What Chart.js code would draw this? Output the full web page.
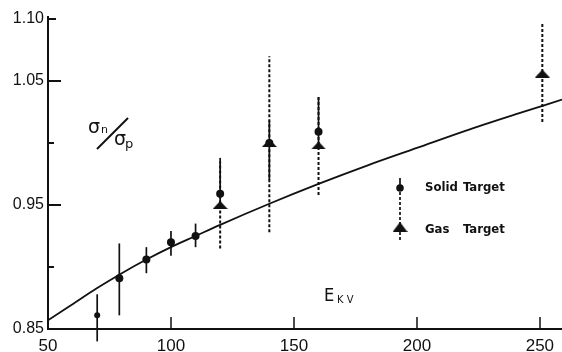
<!DOCTYPE html>
<html>
<head>
<meta charset="utf-8">
<script src="https://cdn.jsdelivr.net/npm/chart.js@4.4.1/dist/chart.umd.min.js"></script>
<style>
  html, body { margin: 0; padding: 0; background: #fff; }
  canvas { display: block; }
</style>
</head>
<body>
<canvas id="ratio" width="562" height="352"></canvas>
<script>
// theory curve, sigma_n / sigma_p against energy in kV
const curveE = [50, 60, 70, 80, 90, 100, 110, 120, 140, 160, 180, 200, 220, 240, 259];
const curveRatio = [0.857, 0.870, 0.883, 0.895, 0.906, 0.916, 0.925, 0.934, 0.951, 0.967, 0.982, 0.996, 1.010, 1.023, 1.035];

// solid target points and their error bars
const solidE = [70, 79, 90, 100, 110, 120, 140, 160];
const solidRatio = [0.861, 0.891, 0.906, 0.920, 0.925, 0.959, 1.000, 1.009];
const solidLow = [0.840, 0.861, 0.895, 0.909, 0.916, 0.950, 0.970, 0.998];
const solidHigh = [0.878, 0.919, 0.916, 0.929, 0.935, 0.988, 1.018, 1.037];

// gas target points and their error bars
const gasE = [120, 140, 160, 251];
const gasRatio = [0.950, 1.000, 0.998, 1.056];
const gasLow = [0.915, 0.928, 0.958, 1.017];
const gasHigh = [0.985, 1.070, 1.038, 1.097];

const xTicks = [50, 100, 150, 200, 250];
const yTicks = [0.85, 0.90, 0.95, 1.00, 1.05, 1.10];
const yLabels = ['0.85', '', '0.95', '', '1.05', '1.10'];

const ink = '#111';

// flat triangle used as the gas target marker
function makeTriangle(w, h) {
    const c = document.createElement('canvas');
    c.width = w;
    c.height = h;
    const t = c.getContext('2d');
    t.fillStyle = ink;
    t.beginPath();
    t.moveTo(w / 2, 0);
    t.lineTo(w, h);
    t.lineTo(0, h);
    t.closePath();
    t.fill();
    return c;
}
const triangle = makeTriangle(15, 8);

function vline(ctx, x, y1, y2) {
    ctx.beginPath();
    ctx.moveTo(x, y1);
    ctx.lineTo(x, y2);
    ctx.stroke();
}

// error bars: dashed for gas, solid for the solid target
const errorBars = {
    id: 'errorBars',
    beforeDatasetsDraw(chart) {
        const {ctx, scales: {x, y}} = chart;
        ctx.save();
        ctx.strokeStyle = ink;
        ctx.lineWidth = 2;
        ctx.setLineDash([3, 2]);
        gasE.forEach((e, i) => {
            vline(ctx, x.getPixelForValue(e), y.getPixelForValue(gasLow[i]), y.getPixelForValue(gasHigh[i]));
        });
        ctx.setLineDash([]);
        ctx.lineWidth = 1.7;
        solidE.forEach((e, i) => {
            vline(ctx, x.getPixelForValue(e), y.getPixelForValue(solidLow[i]), y.getPixelForValue(solidHigh[i]));
        });
        ctx.restore();
    }
};

// inward tick marks, axis titles and the hand drawn legend
const decorations = {
    id: 'decorations',
    afterDraw(chart) {
        const {ctx, chartArea, scales: {x, y}} = chart;
        const left = chartArea.left, bottom = chartArea.bottom;
        ctx.save();
        ctx.strokeStyle = ink;
        ctx.fillStyle = ink;
        ctx.lineWidth = 2;

        yTicks.forEach((v, i) => {
            if (i === 0) return;
            const len = i === yTicks.length - 1 ? 8 : (yLabels[i] ? 13 : 6);
            const py = Math.round(y.getPixelForValue(v));
            ctx.beginPath();
            ctx.moveTo(left, py);
            ctx.lineTo(left + len, py);
            ctx.stroke();
        });
        vline(ctx, left, chartArea.top, chartArea.top - 3);

        ctx.lineWidth = 1.5;
        xTicks.forEach((v, i) => {
            if (i === 0) return;
            vline(ctx, Math.round(x.getPixelForValue(v)), bottom, bottom - 12);
        });

        // sigma_n / sigma_p
        ctx.textBaseline = 'alphabetic';
        ctx.textAlign = 'left';
        ctx.font = "19px 'DejaVu Sans'";
        ctx.fillText('σ', 88, 133);
        ctx.fillText('σ', 114, 145);
        ctx.font = "11px 'DejaVu Sans'";
        ctx.fillText('n', 101, 133);
        ctx.font = "13px 'DejaVu Sans'";
        ctx.fillText('p', 125, 148);
        ctx.lineWidth = 2;
        ctx.beginPath();
        ctx.moveTo(97, 149);
        ctx.lineTo(128, 118);
        ctx.stroke();

        // E_KV
        ctx.font = "18px 'Liberation Sans Narrow', 'DejaVu Sans Condensed', sans-serif";
        ctx.fillText('E', 324, 301);
        ctx.font = "11px 'Liberation Sans Narrow', 'DejaVu Sans Condensed', sans-serif";
        ctx.fillText('K V', 337, 303);

        // legend
        const mx = 400;
        ctx.lineWidth = 1.7;
        vline(ctx, mx, 178, 188);
        ctx.beginPath();
        ctx.arc(mx, 188, 3.8, 0, Math.PI * 2);
        ctx.fill();
        ctx.setLineDash([3, 2]);
        vline(ctx, mx, 192, 240);
        ctx.setLineDash([]);
        ctx.drawImage(makeTriangle(15, 10), mx - 7.5, 222);

        ctx.font = "bold 13px 'Liberation Sans Narrow', 'DejaVu Sans Condensed', sans-serif";
        ctx.textBaseline = 'middle';
        ctx.fillText('Solid', 425, 188);
        ctx.fillText('Target', 463, 188);
        ctx.fillText('Gas', 425, 230);
        ctx.fillText('Target', 463, 230);
        ctx.restore();
    }
};

const tickFont = { family: "'Liberation Sans', Arial, sans-serif", size: 17 };

new Chart(document.getElementById('ratio'), {
    type: 'scatter',
    data: {
        datasets: [
            {
                label: 'Solid Target',
                data: solidE.map((e, i) => ({ x: e, y: solidRatio[i] })),
                backgroundColor: ink,
                borderWidth: 0,
                pointRadius: ctx => ctx.dataIndex === 0 ? 3 : 4,
                pointStyle: 'circle'
            },
            {
                label: 'Gas Target',
                data: gasE.map((e, i) => ({ x: e, y: gasRatio[i] })),
                pointStyle: triangle,
                pointRadius: 6
            },
            {
                type: 'line',
                label: 'Theory',
                data: curveE.map((e, i) => ({ x: e, y: curveRatio[i] })),
                borderColor: ink,
                borderWidth: 1.8,
                pointRadius: 0,
                fill: false,
                cubicInterpolationMode: 'monotone'
            }
        ]
    },
    options: {
        responsive: false,
        animation: false,
        devicePixelRatio: 1,
        layout: { autoPadding: false, padding: { top: 19, right: 0, bottom: 0, left: 0 } },
        plugins: {
            legend: { display: false },
            tooltip: { enabled: false }
        },
        scales: {
            x: {
                type: 'linear',
                min: 50,
                max: 259,
                afterBuildTicks: s => { s.ticks = xTicks.map(v => ({ value: v })); },
                afterFit: s => { s.height = 23; s.paddingLeft = 0; s.paddingRight = 0; },
                grid: { display: false, drawTicks: false },
                border: { display: true, color: ink, width: 2 },
                ticks: { color: ink, font: tickFont, padding: 7, maxRotation: 0, autoSkip: false, callback: v => String(v) }
            },
            y: {
                type: 'linear',
                min: 0.85,
                max: 1.10,
                afterBuildTicks: s => { s.ticks = yTicks.map(v => ({ value: v })); },
                afterFit: s => { s.width = 48; },
                grid: { display: false, drawTicks: false },
                border: { display: true, color: ink, width: 2 },
                ticks: { color: ink, font: { family: tickFont.family, size: 16 }, padding: 4, autoSkip: false, callback: (v, i) => yLabels[i] }
            }
        }
    },
    plugins: [errorBars, decorations]
});
</script>
</body>
</html>
